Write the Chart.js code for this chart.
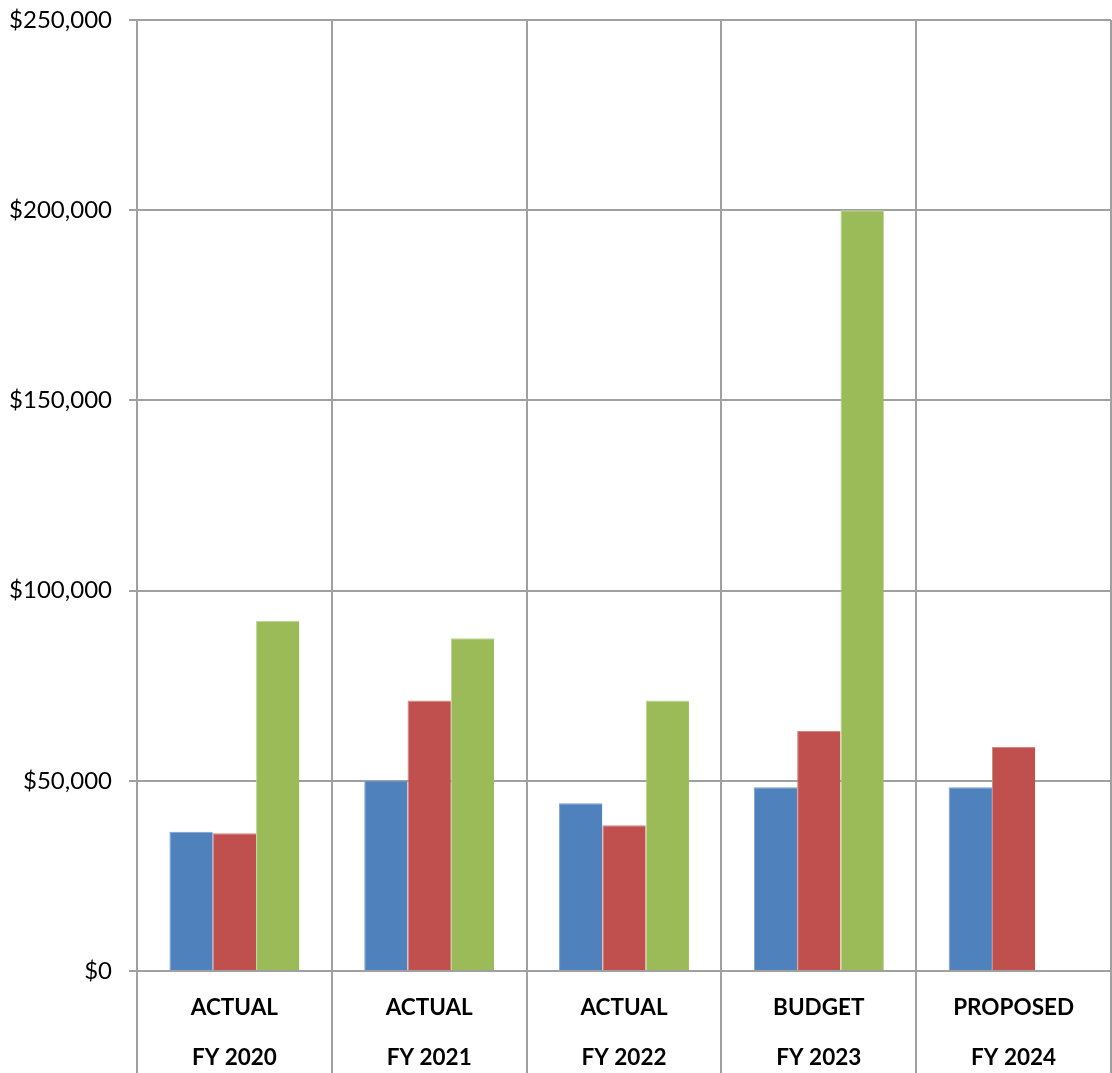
<!DOCTYPE html>
<html>
<head>
<meta charset="utf-8">
<script src="https://cdn.jsdelivr.net/npm/chart.js@4"></script>
<style>
  html, body { margin: 0; padding: 0; background: #fff; }
  #wrap { width: 1112px; height: 1073px; position: relative; }
</style>
</head>
<body>
<div id="wrap"><canvas id="chartFy"></canvas></div>
<script>
// dados
const categorias = [
  ['ACTUAL', 'FY 2020'],
  ['ACTUAL', 'FY 2021'],
  ['ACTUAL', 'FY 2022'],
  ['BUDGET', 'FY 2023'],
  ['PROPOSED', 'FY 2024']
];
const serieAzul = [36600, 50100, 44100, 48300, 48300];
const serieVermelha = [36200, 71100, 38300, 63100, 58900];
const serieVerde = [92100, 87500, 71100, 200000, null];
const yTicks = [0, 50000, 100000, 150000, 200000, 250000];

const GRID = '#a0a0a0';
const FONT = 'Lato, "Open Sans", sans-serif';

function moeda(v){ return '$' + Number(v).toLocaleString('en-US'); }

const ctx = document.getElementById('chartFy').getContext('2d');
new Chart(ctx, {
  type: 'bar',
  data: {
    labels: categorias,
    datasets: [
      { data: serieAzul, backgroundColor: '#4f81bd', borderColor: '#7da0cf', borderWidth: { left: 1, top: 1 } },
      { data: serieVermelha, backgroundColor: '#c0504d', borderColor: '#d58482', borderWidth: { left: 1, top: 1 } },
      { data: serieVerde, backgroundColor: '#9bbb59', borderColor: '#bcd493', borderWidth: { left: 1, top: 1 } }
    ]
  },
  options: {
    responsive: true,
    maintainAspectRatio: false,
    animation: false,
    layout: { padding: { top: 20, right: 1, left: 0, bottom: 0 } },
    plugins: { legend: { display: false }, tooltip: { enabled: false } },
    datasets: { bar: { categoryPercentage: 0.667, barPercentage: 1.0 } },
    scales: {
      x: {
        grid: { color: GRID, lineWidth: 2, offset: true, tickLength: 102 },
        border: { color: GRID, width: 2 },
        ticks: {
          color: '#000',
          padding: -90,
          maxRotation: 0,
          font: { family: FONT, size: 22.5, weight: 'bold', lineHeight: 2.22 }
        },
        afterFit: s => { s.height = 102; s.paddingLeft = 0; s.paddingRight = 0; }
      },
      y: {
        min: 0,
        max: 250000,
        afterBuildTicks: s => { s.ticks = yTicks.map(v => ({ value: v })); },
        grid: { color: GRID, lineWidth: 2, tickLength: 8 },
        border: { color: GRID, width: 2 },
        ticks: {
          color: '#000',
          padding: 17,
          callback: v => moeda(v),
          font: { family: FONT, size: 24 }
        },
        afterFit: s => { s.width = 137; s.paddingTop = 0; s.paddingBottom = 0; }
      }
    }
  }
});
</script>
</body>
</html>
